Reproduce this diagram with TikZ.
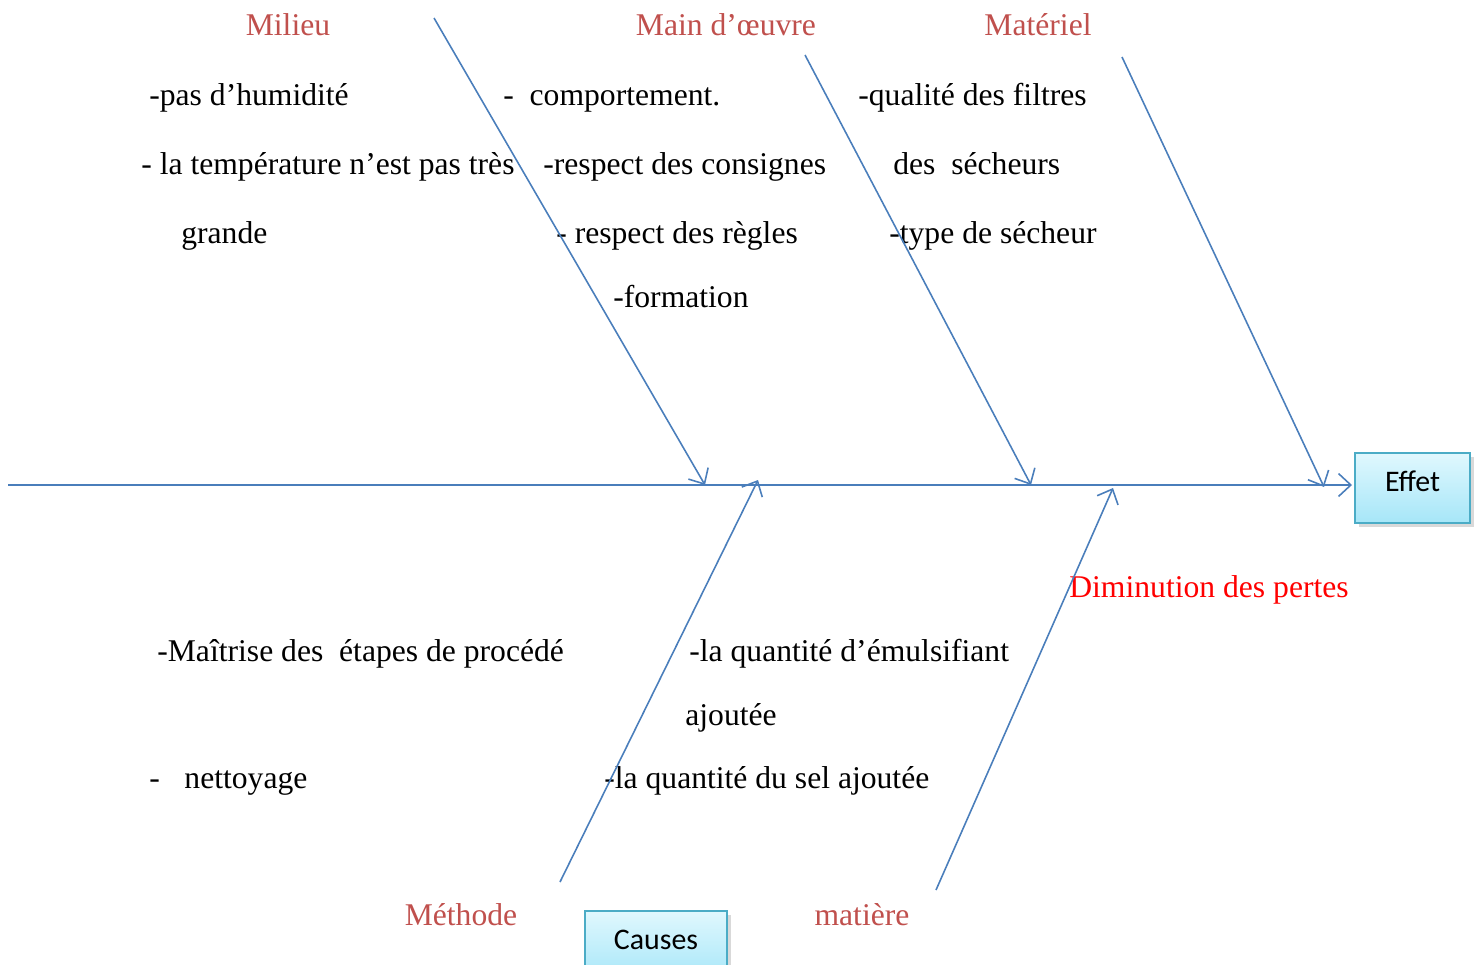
\documentclass[tikz,border=0pt]{standalone}
\usepackage{fontspec}
\setmainfont{Liberation Serif}
\newfontfamily\calib{Carlito}
\usepackage{xcolor}
\usepackage{tikz}
\usetikzlibrary{arrows.meta, shadows, positioning}
\definecolor{boneblue}{HTML}{4A7EBB}
\definecolor{catred}{HTML}{C0504D}
\definecolor{boxedge}{HTML}{4BACC6}
\definecolor{boxtop}{HTML}{E0F8FE}
\definecolor{boxbot}{HTML}{A6E6F8}

\begin{document}
\begin{tikzpicture}[x=0.02cm,y=-0.02cm,
    txt/.style={anchor=base west,inner sep=0pt,font=\fontsize{18}{22}\selectfont},
    cat/.style={inner sep=0pt,text=catred,font=\fontsize{18}{22}\selectfont},
    bone/.style={boneblue,line width=0.9pt,-{Straight Barb[length=7pt,width=13pt]}},
    resbox/.style={draw=boxedge,line width=1.2pt,top color=boxtop,bottom color=boxbot,
      drop shadow={opacity=0.3,shadow xshift=2pt,shadow yshift=-2pt},
      minimum height=1.4cm,text height=12pt,text depth=8pt,
      font=\calib\fontsize{17}{20}\selectfont}]
    \useasboundingbox (0,0) rectangle (1477,964);

    % categories
    \node[cat] (milieu) at (288,25) {Milieu};
    \node[cat] (mainoeuvre) at (726,25) {Main d’œuvre};
    \node[cat] (materiel) at (1038,25) {Matériel};
    \node[cat] (methode) at (461,915) {Méthode};
    \node[cat] (matiere) at (862,915) {matière};

    % causes
    \node[txt] (mil1) at (149,105) {-pas d’humidité};
    \node[txt] (mil2) at (141,174) {- la température n’est pas très};
    \node[txt] (mil3) at (181,243) {grande};
    \node[txt] (mo1) at (503,105) {-\hspace{9pt}comportement.};
    \node[txt] (mo2) at (543,174) {-respect des consignes};
    \node[txt] (mo3) at (556,243) {- respect des règles};
    \node[txt] (mo4) at (613,307) {-formation};
    \node[txt] (mat1) at (858,105) {-qualité des filtres};
    \node[txt] (mat2) at (893,174) {des\hspace{9pt}sécheurs};
    \node[txt] (mat3) at (889,243) {-type de sécheur};
    \node[txt] (met1) at (157,661) {-Maîtrise des\hspace{9pt}étapes de procédé};
    \node[txt] (met2) at (149,788) {-\hspace{14pt}nettoyage};
    \node[txt] (mt1) at (689,661) {-la quantité d’émulsifiant};
    \node[txt] (mt2) at (685,725) {ajoutée};
    \node[txt] (mt3) at (604,788) {-la quantité du sel ajoutée};

    % boxes
    \node[resbox,minimum width=2.3cm,anchor=north west] (effet) at (1354,452) {Effet};
    \node[resbox,minimum width=2.84cm,anchor=north west] (causes) at (584,910) {Causes};
    \node[txt,text=red] (pertes) at (1069,597) {Diminution des pertes};

    % spine and bones
    \coordinate (tail) at (8,485);
    \coordinate (head) at (1352,485);
    \coordinate (milA) at (434,18);   \coordinate (milB) at (705,485);
    \coordinate (moA) at (805,55);    \coordinate (moB) at (1031,485);
    \coordinate (matA) at (1122,57);  \coordinate (matB) at (1324,487);
    \coordinate (metA) at (560,882);  \coordinate (metB) at (758,480);
    \coordinate (mtA) at (936,890);   \coordinate (mtB) at (1113,488);

    \draw[bone] (tail) -- (head);
    \draw[bone] (milA) -- (milB);
    \draw[bone] (moA) -- (moB);
    \draw[bone] (matA) -- (matB);
    \draw[bone] (metA) -- (metB);
    \draw[bone] (mtA) -- (mtB);
\end{tikzpicture}
\end{document}
